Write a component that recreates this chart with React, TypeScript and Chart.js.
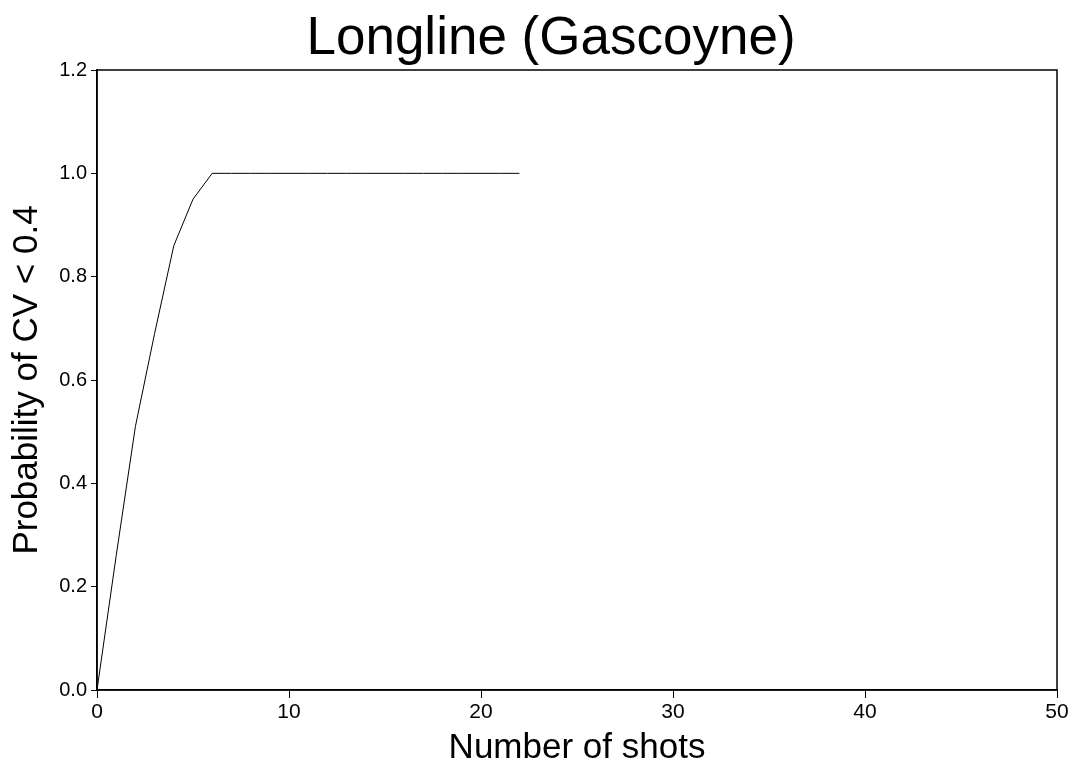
import React, { useEffect, useRef } from "react";
import { Chart, registerables } from "chart.js";

Chart.register(...registerables);

const shots = [0, 1, 2, 3, 4, 5, 6, 7, 8, 9, 10, 11, 12, 13, 14, 15, 16, 17, 18, 19, 20, 21, 22];
const probability = [0, 0.26, 0.51, 0.69, 0.86, 0.95, 1, 1, 1, 1, 1, 1, 1, 1, 1, 1, 1, 1, 1, 1, 1, 1, 1];
const titleText = "Longline (Gascoyne)";
const xTitle = "Number of shots";
const yTitle = "Probability of CV < 0.4";

const FONT = "Arial, 'Liberation Sans', Helvetica, sans-serif";

const framePlugin = {
  id: "frame",
  afterDraw(chart: any) {
    const { ctx, chartArea } = chart;
    ctx.save();
    ctx.strokeStyle = "#000";
    ctx.lineWidth = 1.5;
    ctx.strokeRect(chartArea.left, chartArea.top, chartArea.right - chartArea.left, chartArea.bottom - chartArea.top);
    ctx.fillStyle = "#000";
    ctx.font = `53px ${FONT}`;
    ctx.textAlign = "center";
    ctx.textBaseline = "alphabetic";
    ctx.fillText(titleText, 551, 54);
    ctx.restore();
  },
};

export default function App() {
  const ref = useRef<HTMLCanvasElement>(null);
  useEffect(() => {
    document.body.style.margin = "0";
    const chart = new Chart(ref.current!, {
      type: "line",
      data: {
        datasets: [
          {
            data: shots.map((x, i) => ({ x, y: probability[i] })),
            borderColor: "#000",
            borderWidth: 1,
            pointRadius: 0,
            fill: false,
            tension: 0,
          },
        ],
      },
      options: {
        responsive: false,
        animation: false,
        devicePixelRatio: 1,
        layout: { padding: { top: 70, right: 16, left: 0, bottom: 0 } },
        plugins: { legend: { display: false }, tooltip: { enabled: false }, title: { display: false } },
        scales: {
          x: {
            type: "linear",
            min: 0,
            max: 50,
            ticks: { stepSize: 10, color: "#000", font: { size: 21, family: FONT }, padding: 2, maxRotation: 0 },
            grid: { display: true, drawOnChartArea: false, tickLength: 8, color: "#000", lineWidth: 1 },
            border: { display: true, color: "#000", width: 1.5 },
            title: {
              display: true,
              text: xTitle,
              color: "#000",
              font: { size: 35, family: FONT, lineHeight: 0.86 },
              padding: { top: 0, bottom: 0 },
            },
            afterFit(scale: any) {
              scale.height = 73;
            },
          },
          y: {
            type: "linear",
            min: 0,
            max: 1.2,
            ticks: {
              stepSize: 0.2,
              color: "#000",
              font: { size: 20, family: FONT },
              padding: 4,
              callback: (v: any) => Number(v).toFixed(1),
            },
            grid: { display: true, drawOnChartArea: false, tickLength: 6, color: "#000", lineWidth: 1 },
            border: { display: true, color: "#000", width: 1.5 },
            title: {
              display: true,
              text: yTitle,
              color: "#000",
              font: { size: 35, family: FONT, lineHeight: 1 },
              padding: { top: 10, bottom: 0 },
            },
            afterFit(scale: any) {
              scale.width = 97;
            },
          },
        },
      },
      plugins: [framePlugin],
    });
    return () => chart.destroy();
  }, []);
  return (
    <div style={{ position: "absolute", left: 0, top: 0, width: 1073, height: 763 }}>
      <canvas ref={ref} width={1073} height={763} />
    </div>
  );
}
